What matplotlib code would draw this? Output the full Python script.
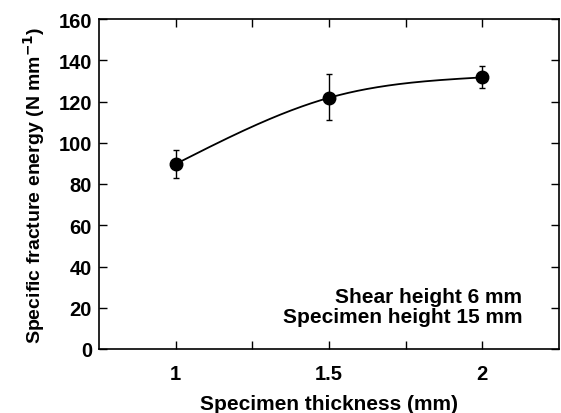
import numpy as np
import matplotlib
matplotlib.use("Agg")
import matplotlib.pyplot as plt

plt.rcParams['font.family'] = ['Liberation Sans', 'DejaVu Sans']

thickness = [1.0, 1.5, 2.0]
energy = [89.7, 121.8, 131.7]
err_low = [6.8, 11.0, 5.3]
err_high = [6.8, 11.4, 5.4]
xtick_vals = [1, 1.25, 1.5, 1.75, 2]
xtick_labels = ['1', '', '1.5', '', '2']
yticks = [0, 20, 40, 60, 80, 100, 120, 140, 160]


def natural_spline(x, y, xs):
    x = np.asarray(x, float); y = np.asarray(y, float)
    n = len(x)
    h = np.diff(x)
    A = np.zeros((n, n)); r = np.zeros(n)
    A[0, 0] = 1; A[-1, -1] = 1
    for i in range(1, n - 1):
        A[i, i - 1] = h[i - 1]
        A[i, i] = 2 * (h[i - 1] + h[i])
        A[i, i + 1] = h[i]
        r[i] = 6 * ((y[i + 1] - y[i]) / h[i] - (y[i] - y[i - 1]) / h[i - 1])
    M = np.linalg.solve(A, r)
    out = np.empty_like(xs)
    for k, xv in enumerate(xs):
        i = min(np.searchsorted(x, xv, side='right') - 1, n - 2)
        i = max(i, 0)
        a = x[i + 1] - xv; b = xv - x[i]; hi = h[i]
        out[k] = (M[i] * a**3 / (6 * hi) + M[i + 1] * b**3 / (6 * hi)
                  + (y[i] / hi - M[i] * hi / 6) * a + (y[i + 1] / hi - M[i + 1] * hi / 6) * b)
    return out


fig = plt.figure(figsize=(5.61, 4.14), dpi=100)
ax = fig.add_axes([99/561, 1-350/414, (559-99)/561, (350-20)/414])

xs = np.linspace(thickness[0], thickness[-1], 200)
ax.plot(xs, natural_spline(thickness, energy, xs), color='black', lw=1.3, zorder=2)

ax.errorbar(thickness, energy, yerr=[err_low, err_high], fmt='o', color='black',
            ms=9, capsize=2.5, elinewidth=1.0, capthick=1.0, zorder=3)

ax.set_xlim(0.75, 2.25)
ax.set_ylim(0, 160)
ax.set_xticks(xtick_vals)
ax.set_xticklabels(xtick_labels)
ax.set_yticks(yticks)
ax.tick_params(direction='in', length=6, width=1.0, labelsize=14.5,
               top=True, right=True)
ax.tick_params(axis='x', pad=11)
ax.tick_params(axis='y', pad=5)
for lab in ax.get_xticklabels() + ax.get_yticklabels():
    lab.set_fontweight('bold')
for s in ax.spines.values():
    s.set_linewidth(1.2)

ax.set_xlabel('Specimen thickness (mm)', fontsize=15, fontweight='bold', labelpad=8)
ax.set_ylabel(r'Specific fracture energy (N mm$^{\mathbf{-1}}$)', fontsize=14,
              fontweight='bold', labelpad=8)

ax.text(0.92, 0.129, 'Shear height 6 mm\nSpecimen height 15 mm', transform=ax.transAxes,
        ha='right', va='center', fontsize=15, fontweight='bold', linespacing=1.1)

fig.savefig('out.png', dpi=100)
